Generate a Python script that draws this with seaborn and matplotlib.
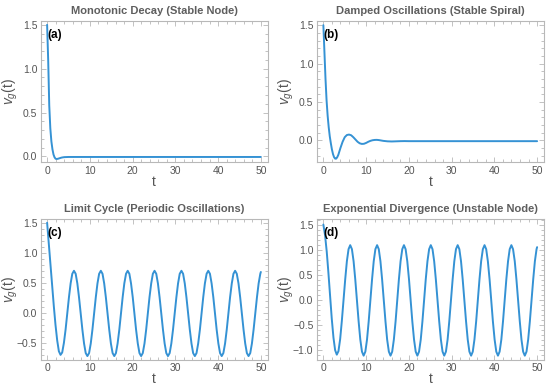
import matplotlib
matplotlib.use("Agg")
import matplotlib.pyplot as plt
from matplotlib.ticker import MultipleLocator
import seaborn as sns

sns.set_theme(style="ticks")
plt.rcParams['font.family'] = ['Liberation Sans', 'DejaVu Sans']
plt.rcParams['mathtext.fontset'] = 'custom'
plt.rcParams['mathtext.it'] = 'Liberation Sans:italic'
plt.rcParams['mathtext.rm'] = 'Liberation Sans'

# =========================
# Data
# =========================

# panels (a) and (b): dense early, sparse in the flat tail
t_ab = [0.0, 0.25, 0.5, 0.75, 1.0, 1.25, 1.5, 1.75, 2.0, 2.25, 2.5, 2.75,
        3.0, 3.25, 3.5, 4.0, 4.5, 5.0, 5.5, 6.0, 6.5, 7.0, 7.5, 8.0,
        8.5, 9.0, 9.5, 10.0, 10.5, 11.0, 11.5, 12.0, 12.5, 13.0, 14.0, 15.0,
        16.0, 17.0, 18.0, 19.0, 20.0, 25.0, 30.0, 35.0, 40.0, 45.0, 50.0]

v_a = [1.50, 1.10, 0.58, 0.32, 0.17, 0.08, 0.02, -0.012, -0.028, -0.030, -0.028, -0.024,
       -0.020, -0.016, -0.013, -0.009, -0.008, -0.007, -0.007, -0.007, -0.007, -0.007, -0.007, -0.007,
       -0.007, -0.007, -0.007, -0.007, -0.007, -0.007, -0.007, -0.007, -0.007, -0.007, -0.007, -0.007,
       -0.007, -0.007, -0.007, -0.007, -0.007, -0.007, -0.007, -0.007, -0.007, -0.007, -0.007]

v_b = [1.50, 1.15, 0.80, 0.52, 0.32, 0.17, 0.05, -0.04, -0.12, -0.18, -0.22, -0.24,
       -0.24, -0.22, -0.19, -0.10, -0.02, 0.04, 0.068, 0.074, 0.065, 0.04, 0.01, -0.02,
       -0.04, -0.048, -0.046, -0.035, -0.02, -0.008, 0.0, 0.004, 0.005, 0.002, -0.008, -0.014,
       -0.016, -0.014, -0.012, -0.011, -0.012, -0.012, -0.012, -0.012, -0.012, -0.012, -0.012]

# panels (c) and (d): sampled every ~0.39 in t
t_cd = [0.00, 0.39, 0.79, 1.18, 1.57, 1.96, 2.36, 2.75, 3.14, 3.53, 3.93, 4.32, 4.71, 5.11, 5.50, 5.89,
        6.28, 6.68, 7.07, 7.46, 7.85, 8.25, 8.64, 9.03, 9.42, 9.82, 10.21, 10.60, 11.00, 11.39, 11.78, 12.17,
        12.57, 12.96, 13.35, 13.74, 14.14, 14.53, 14.92, 15.32, 15.71, 16.10, 16.49, 16.89, 17.28, 17.67, 18.06, 18.46,
        18.85, 19.24, 19.63, 20.03, 20.42, 20.81, 21.21, 21.60, 21.99, 22.38, 22.78, 23.17, 23.56, 23.95, 24.35, 24.74,
        25.13, 25.53, 25.92, 26.31, 26.70, 27.10, 27.49, 27.88, 28.27, 28.67, 29.06, 29.45, 29.85, 30.24, 30.63, 31.02,
        31.42, 31.81, 32.20, 32.59, 32.99, 33.38, 33.77, 34.16, 34.56, 34.95, 35.34, 35.74, 36.13, 36.52, 36.91, 37.31,
        37.70, 38.09, 38.48, 38.88, 39.27, 39.66, 40.06, 40.45, 40.84, 41.23, 41.63, 42.02, 42.41, 42.80, 43.20, 43.59,
        43.98, 44.37, 44.77, 45.16, 45.55, 45.95, 46.34, 46.73, 47.12, 47.52, 47.91, 48.30, 48.69, 49.09, 49.48, 49.87,
        50.00]

v_c = [1.50, 1.15, 0.80, 0.46, 0.11, -0.20, -0.46, -0.64, -0.70, -0.66, -0.50, -0.28, -0.01, 0.26, 0.49, 0.65,
       0.70, 0.65, 0.49, 0.26, -0.01, -0.28, -0.51, -0.67, -0.72, -0.67, -0.51, -0.28, -0.01, 0.26, 0.49, 0.65,
       0.70, 0.65, 0.49, 0.26, -0.01, -0.28, -0.51, -0.67, -0.72, -0.67, -0.51, -0.28, -0.01, 0.26, 0.49, 0.65,
       0.70, 0.65, 0.49, 0.26, -0.01, -0.28, -0.51, -0.67, -0.72, -0.67, -0.51, -0.28, -0.01, 0.26, 0.49, 0.65,
       0.70, 0.65, 0.49, 0.26, -0.01, -0.28, -0.51, -0.67, -0.72, -0.67, -0.51, -0.28, -0.01, 0.26, 0.49, 0.65,
       0.70, 0.65, 0.49, 0.26, -0.01, -0.28, -0.51, -0.67, -0.72, -0.67, -0.51, -0.28, -0.01, 0.26, 0.49, 0.65,
       0.70, 0.65, 0.49, 0.26, -0.01, -0.28, -0.51, -0.67, -0.72, -0.67, -0.51, -0.28, -0.01, 0.26, 0.49, 0.65,
       0.70, 0.65, 0.49, 0.26, -0.01, -0.28, -0.51, -0.67, -0.72, -0.67, -0.51, -0.28, -0.01, 0.26, 0.49, 0.65,
       0.68]

v_d = [1.50, 1.29, 0.96, 0.54, 0.08, -0.37, -0.75, -1.00, -1.09, -1.02, -0.78, -0.42, -0.01, 0.41, 0.77, 1.01,
       1.09, 1.01, 0.77, 0.41, -0.01, -0.43, -0.79, -1.03, -1.11, -1.03, -0.79, -0.43, -0.01, 0.41, 0.77, 1.01,
       1.09, 1.01, 0.77, 0.41, -0.01, -0.43, -0.79, -1.03, -1.11, -1.03, -0.79, -0.43, -0.01, 0.41, 0.77, 1.01,
       1.09, 1.01, 0.77, 0.41, -0.01, -0.43, -0.79, -1.03, -1.11, -1.03, -0.79, -0.43, -0.01, 0.41, 0.77, 1.01,
       1.09, 1.01, 0.77, 0.41, -0.01, -0.43, -0.79, -1.03, -1.11, -1.03, -0.79, -0.43, -0.01, 0.41, 0.77, 1.01,
       1.09, 1.01, 0.77, 0.41, -0.01, -0.43, -0.79, -1.03, -1.11, -1.03, -0.79, -0.43, -0.01, 0.41, 0.77, 1.01,
       1.09, 1.01, 0.77, 0.41, -0.01, -0.43, -0.79, -1.03, -1.11, -1.03, -0.79, -0.43, -0.01, 0.41, 0.77, 1.01,
       1.09, 1.01, 0.77, 0.41, -0.01, -0.43, -0.79, -1.03, -1.11, -1.03, -0.79, -0.43, -0.01, 0.41, 0.77, 1.01,
       1.05]

titles = ["Monotonic Decay (Stable Node)",
          "Damped Oscillations (Stable Spiral)",
          "Limit Cycle (Periodic Oscillations)",
          "Exponential Divergence (Unstable Node)"]
tags = ["(a)", "(b)", "(c)", "(d)"]

panels = [(t_ab, v_a), (t_ab, v_b), (t_cd, v_c), (t_cd, v_d)]
ylims = [(-0.07, 1.54), (-0.29, 1.55), (-0.78, 1.57), (-1.19, 1.62)]

# =========================
# Plot
# =========================

line_color = "#3592d4"
frame_color = "#b8b8b8"
text_color = "#555555"

fig, axes = plt.subplots(2, 2, figsize=(5.5, 3.88), dpi=100)
fig.subplots_adjust(left=0.074, right=0.989, top=0.945, bottom=0.073,
                    wspace=0.217, hspace=0.397)

for ax, (tt, vv), title, tag, ylim in zip(axes.flat, panels, titles, tags, ylims):
    sns.lineplot(x=tt, y=vv, ax=ax, color=line_color, linewidth=1.4,
                 estimator=None, sort=False)

    ax.set_xlim(-1.5, 51.6)
    ax.set_ylim(*ylim)
    ax.xaxis.set_major_locator(MultipleLocator(10))
    ax.xaxis.set_minor_locator(MultipleLocator(2))
    ax.yaxis.set_major_locator(MultipleLocator(0.5))
    ax.yaxis.set_minor_locator(MultipleLocator(0.1))

    ax.tick_params(which="both", direction="in", top=True, right=True,
                   color=frame_color, width=0.6, labelsize=7.5,
                   labelcolor=text_color, pad=2.5)
    ax.tick_params(which="major", length=3.5)
    ax.tick_params(which="minor", length=2)
    for sp in ax.spines.values():
        sp.set_color(frame_color)
        sp.set_linewidth(0.8)

    ax.set_title(title, fontsize=8, fontweight="bold", color="#5e5e5e", pad=5)
    ax.set_xlabel("t", fontsize=10, color=text_color, labelpad=-1)
    ax.set_ylabel(r"$v_g$(t)", fontsize=10, color=text_color)
    ax.yaxis.label.set_va("center")
    ax.yaxis.set_label_coords(-0.135, 0.5)

    ax.text(0.028, 0.90, tag, transform=ax.transAxes, fontsize=8.5,
            fontweight="bold", color="black", va="center", ha="left")

fig.savefig("out.png", dpi=100)
